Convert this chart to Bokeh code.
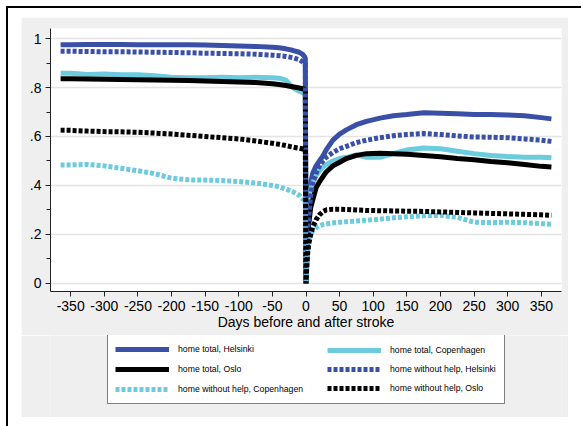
from bokeh.plotting import figure
from bokeh.models import FixedTicker, Legend, LegendItem, ColumnDataSource
from bokeh.layouts import column
from bokeh.embed import file_html
from bokeh.resources import INLINE

days = [-365, -350, -325, -300, -275, -250, -225, -200, -175, -150, -125, -100, -75, -50, -40, -30, -20, -10, -5, -2, -1,
        0, 1, 2, 4, 7, 10, 15, 20, 25, 30, 40, 50, 60, 75, 90, 110, 130, 150, 175, 200, 225, 250, 275, 300, 325, 350, 365]

home_total_helsinki = [0.975, 0.975, 0.976, 0.976, 0.976, 0.975, 0.975, 0.975, 0.975, 0.974, 0.972, 0.970, 0.968, 0.964, 0.962, 0.958, 0.952, 0.944, 0.935, 0.925, 0.920,
                       0.0, 0.14, 0.24, 0.33, 0.41, 0.45, 0.48, 0.50, 0.52, 0.545, 0.585, 0.61, 0.627, 0.648, 0.662, 0.675, 0.685, 0.69, 0.697, 0.695, 0.693, 0.69, 0.69, 0.688, 0.685, 0.677, 0.672]
home_total_copenhagen = [0.858, 0.858, 0.853, 0.855, 0.852, 0.852, 0.848, 0.842, 0.840, 0.840, 0.842, 0.840, 0.842, 0.840, 0.838, 0.830, 0.800, 0.785, 0.780, 0.775, 0.770,
                         0.0, 0.12, 0.22, 0.31, 0.38, 0.41, 0.44, 0.46, 0.475, 0.485, 0.50, 0.51, 0.515, 0.525, 0.515, 0.515, 0.53, 0.545, 0.553, 0.55, 0.54, 0.53, 0.522, 0.518, 0.515, 0.515, 0.513]
home_total_oslo = [0.836, 0.836, 0.835, 0.834, 0.833, 0.832, 0.831, 0.830, 0.829, 0.827, 0.825, 0.823, 0.820, 0.815, 0.812, 0.808, 0.803, 0.798, 0.795, 0.793, 0.792,
                   0.0, 0.08, 0.15, 0.24, 0.31, 0.34, 0.39, 0.415, 0.435, 0.455, 0.48, 0.495, 0.51, 0.523, 0.53, 0.532, 0.53, 0.527, 0.522, 0.517, 0.51, 0.505, 0.498, 0.493, 0.486, 0.478, 0.475]
home_nohelp_helsinki = [0.948, 0.948, 0.947, 0.946, 0.946, 0.945, 0.944, 0.943, 0.942, 0.940, 0.939, 0.938, 0.936, 0.932, 0.930, 0.927, 0.922, 0.913, 0.905, 0.898, 0.895,
                        0.0, 0.10, 0.18, 0.27, 0.36, 0.41, 0.45, 0.48, 0.50, 0.515, 0.535, 0.55, 0.56, 0.575, 0.585, 0.595, 0.603, 0.608, 0.612, 0.608, 0.602, 0.598, 0.597, 0.595, 0.59, 0.585, 0.58]
home_nohelp_copenhagen = [0.484, 0.484, 0.486, 0.480, 0.470, 0.460, 0.448, 0.430, 0.423, 0.422, 0.420, 0.416, 0.410, 0.400, 0.395, 0.385, 0.375, 0.360, 0.345, 0.340, 0.335,
                          0.0, 0.07, 0.12, 0.17, 0.20, 0.215, 0.228, 0.235, 0.24, 0.243, 0.247, 0.25, 0.252, 0.255, 0.258, 0.262, 0.268, 0.272, 0.276, 0.278, 0.27, 0.25, 0.248, 0.25, 0.248, 0.244, 0.242]
home_nohelp_oslo = [0.626, 0.625, 0.622, 0.620, 0.619, 0.617, 0.614, 0.610, 0.605, 0.600, 0.595, 0.590, 0.582, 0.572, 0.568, 0.563, 0.557, 0.552, 0.549, 0.547, 0.546,
                    0.0, 0.06, 0.11, 0.16, 0.20, 0.23, 0.26, 0.28, 0.293, 0.30, 0.303, 0.303, 0.302, 0.30, 0.298, 0.297, 0.296, 0.295, 0.294, 0.292, 0.29, 0.288, 0.286, 0.284, 0.282, 0.28, 0.278]

x_ticks = [-350, -300, -250, -200, -150, -100, -50, 0, 50, 100, 150, 200, 250, 300, 350]
x_tick_labels = ["-350", "-300", "-250", "-200", "-150", "-100", "-50", "0", "50", "100", "150", "200", "250", "300", "350"]
y_ticks = [0, 0.2, 0.4, 0.6, 0.8, 1.0]
y_tick_labels = ["0", ".2", ".4", ".6", ".8", "1"]

labels = ["home total, Helsinki", "home total, Copenhagen", "home total, Oslo",
          "home without help, Helsinki", "home without help, Copenhagen", "home without help, Oslo"]

BLUE = "#3a4fa6"
CYAN = "#6ccbdc"
BLACK = "#000000"
GREY = "#efefef"
FONT = "Liberation Sans"
cols = ["ht", "ct", "ot", "hw", "cw", "ow"]
styles = [(BLUE, "solid"), (CYAN, "solid"), (BLACK, "solid"), (BLUE, "4 2"), (CYAN, "4 2"), (BLACK, "4 2")]

p = figure(width=547, height=318, x_range=(-380, 380), y_range=(-0.033, 1.041),
           output_backend="svg", toolbar_location=None,
           min_border_left=29, min_border_top=11, min_border_right=7, min_border_bottom=44,
           background_fill_color="white", border_fill_color=GREY, outline_line_color=None)
p.margin = (9, 13, 0, 13)

src = ColumnDataSource(dict(d=days, ht=home_total_helsinki, ct=home_total_copenhagen, ot=home_total_oslo,
                            hw=home_nohelp_helsinki, cw=home_nohelp_copenhagen, ow=home_nohelp_oslo))

for col, (c, dash) in zip(cols, styles):
    p.line("d", col, source=src, line_color=c, line_width=5, line_dash=dash)

p.xgrid.grid_line_color = None
p.ygrid.grid_line_color = "#e4e4e4"
p.ygrid.grid_line_width = 1.5

p.xaxis.ticker = FixedTicker(ticks=x_ticks)
p.xaxis.major_label_overrides = {t: l for t, l in zip(x_ticks, x_tick_labels)}
p.yaxis.ticker = FixedTicker(ticks=y_ticks, minor_ticks=[0.1, 0.3, 0.5, 0.7, 0.9])
p.yaxis.major_label_overrides = {t: l for t, l in zip(y_ticks, y_tick_labels)}
p.yaxis.major_label_orientation = "horizontal"
for ax in (p.xaxis[0], p.yaxis[0]):
    ax.axis_line_color = "#222222"
    ax.major_tick_line_color = "#222222"
    ax.minor_tick_line_color = "#222222"
    ax.major_tick_out = 5
    ax.major_tick_in = 0
    ax.minor_tick_in = 0
    ax.major_label_text_font = FONT
    ax.major_label_text_font_size = "14px"
    ax.major_label_text_color = "#000000"
    ax.major_label_standoff = 4
p.xaxis.minor_tick_out = 0
p.yaxis.minor_tick_out = 4
p.xaxis.axis_label = "Days before and after stroke"
p.xaxis.axis_label_text_font = FONT
p.xaxis.axis_label_text_font_size = "14px"
p.xaxis.axis_label_text_font_style = "normal"
p.xaxis.axis_label_text_color = "#000000"
p.xaxis.axis_label_standoff = 0

# legend panel (its lines lie outside its x range, so only the legend shows)
p2 = figure(width=547, height=82, x_range=(1000, 1001), y_range=(0, 1),
            output_backend="svg", toolbar_location=None, min_border=0,
            background_fill_color=GREY, border_fill_color=GREY, outline_line_color=None)
p2.margin = (0, 13, 9, 13)
p2.axis.visible = False
p2.grid.visible = False
lr = [p2.line("d", col, source=src, line_color=c, line_width=5, line_dash=dash)
      for col, (c, dash) in zip(cols, styles)]


def make_legend(idx, loc, label_width, spacing, boxed):
    lg = Legend(items=[LegendItem(label=labels[i], renderers=[lr[i]]) for i in idx], location=loc)
    lg.label_text_font = FONT
    lg.label_text_font_size = "8.7px"
    lg.label_text_color = "#000000"
    lg.glyph_width = 54
    lg.glyph_height = 14
    lg.label_height = 14
    lg.label_width = label_width
    lg.label_standoff = 9
    lg.spacing = spacing
    lg.padding = 7
    lg.margin = 0
    if boxed:
        lg.border_line_color = "#000000"
        lg.border_line_width = 1
        lg.background_fill_color = "white"
        lg.background_fill_alpha = 1
    else:
        lg.border_line_color = None
        lg.background_fill_alpha = 0
    return lg


p2.add_layout(make_legend([0, 2, 4], (57, 13), 319, 6, True), "center")
p2.add_layout(make_legend([1, 3, 5], (277, 22), 100, 5, False), "center")

layout = column(p, p2, spacing=0, styles={"margin-left": "6px", "margin-top": "6px",
                                          "border-left": "2px solid #000", "border-top": "2px solid #000",
                                          "background-color": "white"})

open("out.html", "w").write(file_html(layout, INLINE))
